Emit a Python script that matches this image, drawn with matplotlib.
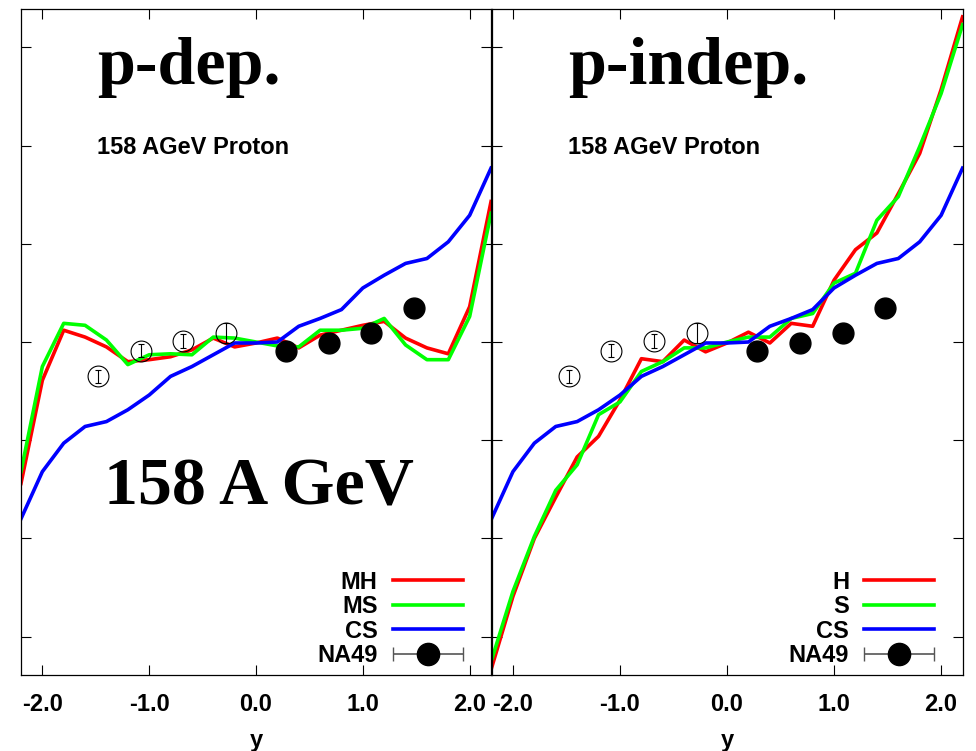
import numpy as np
import matplotlib
matplotlib.use('Agg')
import matplotlib.pyplot as plt
from matplotlib.legend_handler import HandlerErrorbar
from matplotlib.container import ErrorbarContainer

plt.rcParams['font.family'] = ['Liberation Sans', 'DejaVu Sans']
plt.rcParams['font.weight'] = 'bold'

# rapidity grid of the model curves
rap = [-2.2, -2.0, -1.8, -1.6, -1.4, -1.2, -1.0, -0.8, -0.6, -0.4, -0.2, 0.0,
       0.2, 0.4, 0.6, 0.8, 1.0, 1.2, 1.4, 1.6, 1.8, 2.0, 2.2]

# p-dependent potentials
v1_mh = [-0.144, -0.039, 0.012, 0.005, -0.005, -0.020, -0.018, -0.015, -0.008, 0.004, -0.005, -0.001,
         0.004, -0.006, 0.007, 0.012, 0.017, 0.021, 0.004, -0.006, -0.012, 0.036, 0.143]
v1_ms = [-0.132, -0.025, 0.019, 0.017, 0.002, -0.023, -0.013, -0.012, -0.013, 0.005, 0.004, 0.000,
         -0.004, -0.005, 0.012, 0.012, 0.014, 0.024, -0.003, -0.018, -0.018, 0.026, 0.131]
# cascade (same in both panels)
v1_cs = [-0.180, -0.132, -0.103, -0.086, -0.081, -0.069, -0.054, -0.035, -0.025, -0.013, -0.001, -0.001,
         0.000, 0.016, 0.024, 0.033, 0.055, 0.068, 0.080, 0.085, 0.102, 0.129, 0.177]
# p-independent potentials
v1_h = [-0.332, -0.259, -0.200, -0.158, -0.117, -0.096, -0.059, -0.017, -0.020, 0.002, -0.010, -0.001,
        0.010, -0.001, 0.019, 0.016, 0.063, 0.094, 0.111, 0.151, 0.192, 0.257, 0.331]
v1_s = [-0.324, -0.254, -0.198, -0.151, -0.125, -0.074, -0.061, -0.030, -0.020, -0.006, -0.006, 0.000,
        0.005, 0.005, 0.024, 0.029, 0.060, 0.070, 0.124, 0.148, 0.199, 0.253, 0.323]

# NA49 data (open symbols = reflected)
na49_y = np.array([0.28, 0.68, 1.08, 1.48])
na49_v1 = np.array([-0.009, -0.001, 0.009, 0.035])
na49_err = np.array([0.010, 0.0067, 0.0067, 0.0067])

xticks = [-2.0, -1.0, 0.0, 1.0, 2.0]
xtick_labels = ['-2.0', '-1.0', '0.0', '1.0', '2.0']
yticks = [-0.3, -0.2, -0.1, 0.0, 0.1, 0.2, 0.3]

panels = [
    ('p-dep.', ['MH', 'MS', 'CS', 'NA49'], v1_mh, v1_ms),
    ('p-indep.', ['H', 'S', 'CS', 'NA49'], v1_h, v1_s),
]

fig = plt.figure(figsize=(9.76, 7.51), dpi=100)
ax1 = fig.add_axes([0.0215, 0.1012, 0.4816, 0.8868])
ax2 = fig.add_axes([0.5036, 0.1012, 0.4826, 0.8868])

for ax, (title, names, red, green) in zip([ax1, ax2], panels):
    l1, = ax.plot(rap, red, color='#ff0000', lw=2.6)
    l2, = ax.plot(rap, green, color='#00ff00', lw=2.6)
    l3, = ax.plot(rap, v1_cs, color='#0000ff', lw=2.6)

    ax.errorbar(-na49_y, -na49_v1, yerr=na49_err, fmt='o', ms=15, mfc='none', mec='black', mew=0.8,
                ecolor='black', elinewidth=0.8, capsize=2.5, zorder=5)
    ax.errorbar(na49_y, na49_v1, yerr=na49_err, fmt='o', ms=15, color='black', zorder=5)

    proxy = ax.errorbar([np.nan], [np.nan], xerr=[1.0], fmt='o', ms=16, color='black',
                        ecolor='#555555', elinewidth=1.2, capsize=5)

    ax.legend([l1, l2, l3, proxy], names, loc='lower right', bbox_to_anchor=(0.94, 0.012),
              frameon=False, markerfirst=False, fontsize=17, handlelength=2.97,
              handletextpad=0.64, labelspacing=0.06, borderpad=0, borderaxespad=0,
              handler_map={ErrorbarContainer: HandlerErrorbar(xerr_size=1.48)})

    ax.text(-1.487, 0.2626, title, fontsize=49, fontweight='bold',
            family=['Liberation Serif', 'DejaVu Serif'], ha='left', va='baseline')
    ax.text(-1.487, 0.191, '158 AGeV Proton', fontsize=17, ha='left', va='baseline')

    ax.set_xlim(-2.2, 2.2)
    ax.set_ylim(-0.339, 0.339)
    ax.set_xticks(xticks)
    ax.set_xticklabels(xtick_labels)
    ax.set_yticks(yticks)
    ax.set_yticklabels([])
    ax.tick_params(direction='in', length=7.2, width=0.8, top=True, right=True,
                   labelsize=17, pad=13)
    ax.set_xlabel('y', fontsize=17, fontweight='bold', labelpad=9)
    for s in ax.spines.values():
        s.set_linewidth(0.9)

ax1.text(-1.42, -0.165, '158 A GeV', fontsize=49, fontweight='bold',
         family=['Liberation Serif', 'DejaVu Serif'], ha='left', va='baseline')

fig.savefig('out.png', dpi=100)
